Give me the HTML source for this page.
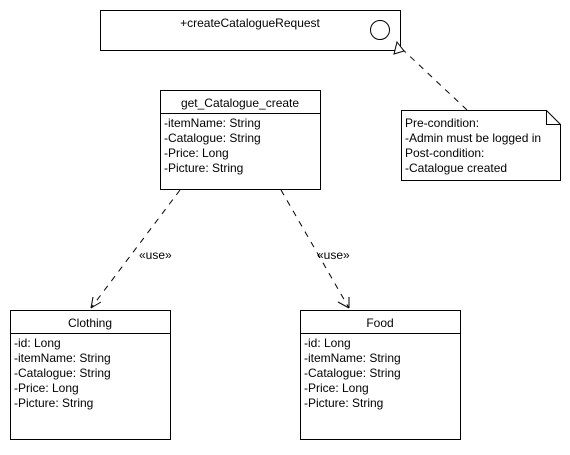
<!DOCTYPE html>
<html><head><style>
body{margin:0;background:#fff;}
svg text{font-family:"Liberation Sans",Arial,sans-serif;font-size:12px;fill:#000;}
</style></head><body>
<svg width="570" height="450" viewBox="0 0 570 450" xmlns="http://www.w3.org/2000/svg">
<rect width="570" height="450" fill="#fff"/>
<g fill="none" stroke="#000" stroke-width="1">
<rect x="100.5" y="10.5" width="300" height="40"/>
<circle cx="380" cy="30" r="9.5"/>
<rect x="160.5" y="90.5" width="160" height="99"/>
<line x1="160" y1="113.5" x2="320" y2="113.5"/>
<rect x="10.5" y="310.5" width="160" height="129"/>
<line x1="10" y1="333.5" x2="170" y2="333.5"/>
<rect x="300.5" y="310.5" width="160" height="129"/>
<line x1="300" y1="333.5" x2="460" y2="333.5"/>
<path d="M401.5 110.5 H546.5 L560.5 124.5 V180.5 H401.5 Z"/>
<path d="M546.5 110.5 V124.5 H560.5"/>
<g stroke-dasharray="6,6">
<line x1="467" y1="110" x2="400" y2="47"/>
<line x1="180" y1="190" x2="91" y2="308"/>
<line x1="281" y1="190" x2="349" y2="308"/>
</g>
<path d="M397 42 L404 51 L394 54 Z" fill="#fff"/>
<path d="M91 308 L93 297 M91 308 L101 302"/>
<path d="M349 308 L338 302 M349 308 L349 297"/>
</g>
<text x="250" y="27" text-anchor="middle">+createCatalogueRequest</text>
<text x="240" y="107" text-anchor="middle">get_Catalogue_create</text>
<text x="164" y="127">-itemName: String</text>
<text x="164" y="142">-Catalogue: String</text>
<text x="164" y="157">-Price: Long</text>
<text x="164" y="172">-Picture: String</text>
<text x="405" y="127">Pre-condition:</text>
<text x="405" y="142">-Admin must be logged in</text>
<text x="405" y="157">Post-condition:</text>
<text x="405" y="172">-Catalogue created</text>
<text x="90" y="327" text-anchor="middle">Clothing</text>
<text x="14" y="347">-id: Long</text>
<text x="14" y="362">-itemName: String</text>
<text x="14" y="377">-Catalogue: String</text>
<text x="14" y="392">-Price: Long</text>
<text x="14" y="407">-Picture: String</text>
<text x="380" y="327" text-anchor="middle">Food</text>
<text x="304" y="347">-id: Long</text>
<text x="304" y="362">-itemName: String</text>
<text x="304" y="377">-Catalogue: String</text>
<text x="304" y="392">-Price: Long</text>
<text x="304" y="407">-Picture: String</text>
<text x="139" y="259">«use»</text>
<text x="317" y="259">«use»</text>
</svg>
</body></html>
